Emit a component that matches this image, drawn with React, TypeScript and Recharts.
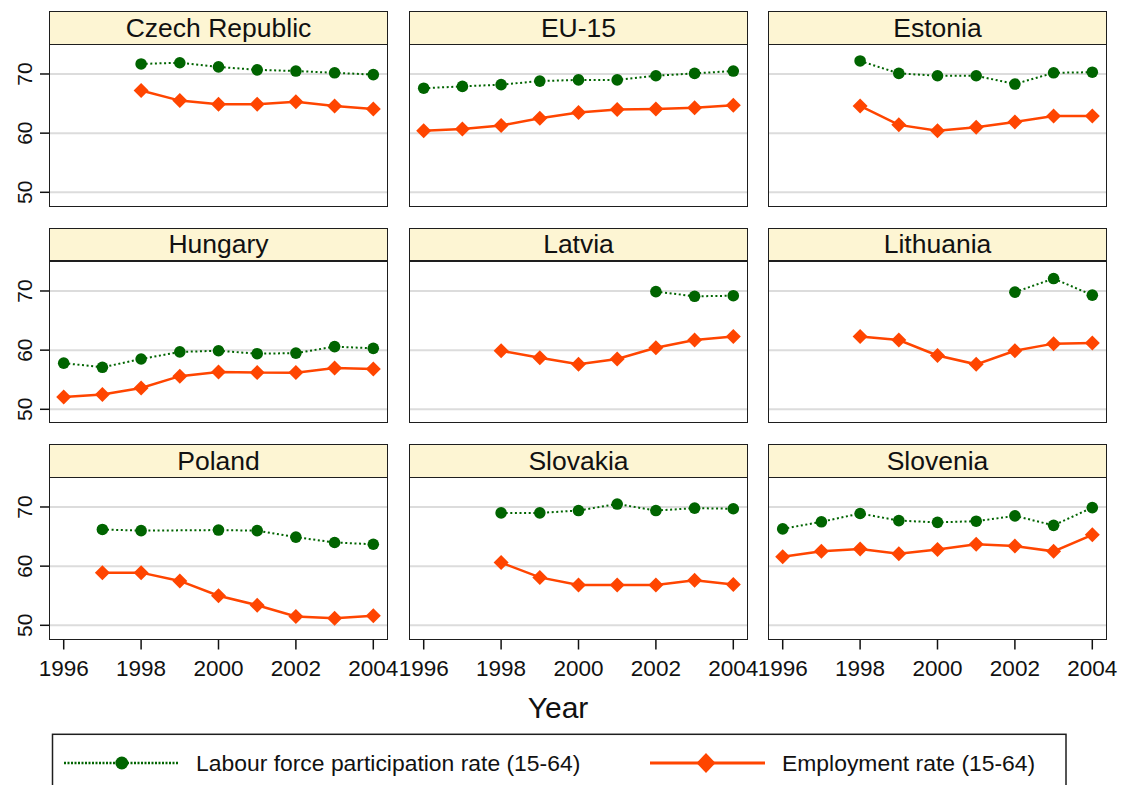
import React from "react";
import { LineChart, Line, XAxis, YAxis, CartesianGrid } from "recharts";

const years = [1996, 1997, 1998, 1999, 2000, 2001, 2002, 2003, 2004];
const yearTicks = [1996, 1998, 2000, 2002, 2004];
const rateTicks = [50, 60, 70];

const czechParticipation = [null, null, 71.7, 71.9, 71.2, 70.7, 70.5, 70.2, 69.9];
const czechEmployment = [null, null, 67.2, 65.5, 64.9, 64.9, 65.3, 64.6, 64.1];
const eu15Participation = [67.6, 67.9, 68.2, 68.8, 69.0, 69.0, 69.7, 70.1, 70.5];
const eu15Employment = [60.4, 60.7, 61.3, 62.5, 63.5, 64.0, 64.1, 64.3, 64.7];
const estoniaParticipation = [null, null, 72.2, 70.1, 69.7, 69.7, 68.3, 70.2, 70.3];
const estoniaEmployment = [null, null, 64.6, 61.4, 60.4, 61.0, 61.9, 62.9, 62.9];
const hungaryParticipation = [57.8, 57.1, 58.5, 59.7, 59.9, 59.4, 59.5, 60.6, 60.3];
const hungaryEmployment = [52.1, 52.5, 53.6, 55.6, 56.3, 56.2, 56.2, 57.0, 56.8];
const latviaParticipation = [null, null, null, null, null, null, 69.9, 69.1, 69.2];
const latviaEmployment = [null, null, 59.9, 58.7, 57.6, 58.5, 60.4, 61.7, 62.3];
const lithuaniaParticipation = [null, null, null, null, null, null, 69.8, 72.1, 69.3];
const lithuaniaEmployment = [null, null, 62.3, 61.7, 59.1, 57.6, 59.9, 61.1, 61.2];
const polandParticipation = [null, 66.2, 66.0, null, 66.1, 66.0, 64.9, 64.0, 63.7];
const polandEmployment = [null, 58.9, 58.9, 57.5, 55.0, 53.4, 51.5, 51.2, 51.6];
const slovakiaParticipation = [null, null, 69.0, 69.0, 69.4, 70.5, 69.4, 69.8, 69.7];
const slovakiaEmployment = [null, null, 60.6, 58.1, 56.8, 56.8, 56.8, 57.6, 56.9];
const sloveniaParticipation = [66.3, 67.5, 68.9, 67.7, 67.4, 67.6, 68.5, 66.9, 69.9];
const sloveniaEmployment = [61.6, 62.5, 62.9, 62.1, 62.8, 63.7, 63.4, 62.5, 65.3];

const panels = [
  { name: "Czech Republic", participation: czechParticipation, employment: czechEmployment },
  { name: "EU-15", participation: eu15Participation, employment: eu15Employment },
  { name: "Estonia", participation: estoniaParticipation, employment: estoniaEmployment },
  { name: "Hungary", participation: hungaryParticipation, employment: hungaryEmployment },
  { name: "Latvia", participation: latviaParticipation, employment: latviaEmployment },
  { name: "Lithuania", participation: lithuaniaParticipation, employment: lithuaniaEmployment },
  { name: "Poland", participation: polandParticipation, employment: polandEmployment },
  { name: "Slovakia", participation: slovakiaParticipation, employment: slovakiaEmployment },
  { name: "Slovenia", participation: sloveniaParticipation, employment: sloveniaEmployment },
];

const FONT = '"Liberation Sans", Arial, sans-serif';
const GREEN = "#006400";
const ORANGE = "#ff4500";
const HEADER_FILL = "#fdf5d3";
const BORDER = "#1e1e1e";

const colLeft = [49, 409, 768];
const rowTop = [11, 227.5, 444];
const panelW = 339;
const headerH = 34;
const plotH = 161.5;
const padX = 30; // room so edge tick labels are not clipped

function CircleDot(props: any) {
  const { cx, cy, value, index } = props;
  if (cx == null || cy == null || value == null) return <g key={`c-${index}`} />;
  return <circle key={`c-${index}`} cx={cx} cy={cy} r={5.8} fill={GREEN} />;
}

function DiamondDot(props: any) {
  const { cx, cy, value, index } = props;
  if (cx == null || cy == null || value == null) return <g key={`d-${index}`} />;
  const s = 7.5;
  return (
    <path
      key={`d-${index}`}
      d={`M${cx},${cy - s} L${cx + s},${cy} L${cx},${cy + s} L${cx - s},${cy} Z`}
      fill={ORANGE}
    />
  );
}

function YTick(props: any) {
  const { x, y, payload } = props;
  return (
    <text
      transform={`translate(${x - 5.8}, ${y}) rotate(-90)`}
      textAnchor="middle"
      fontSize={21}
      fontFamily={FONT}
      fill="#111"
    >
      {payload.value}
    </text>
  );
}

function XTick(props: any) {
  const { x, y, payload } = props;
  return (
    <text x={x} y={y + 24.5} textAnchor="middle" fontSize={22.5} fontFamily={FONT} fill="#111">
      {payload.value}
    </text>
  );
}

function Panel({ name, participation, employment, col, row }: any) {
  const left = colLeft[col];
  const top = rowTop[row];
  const axisW = col === 0 ? 49 : 0;
  const axisH = row === 2 ? 50 : 0;
  const chartW = panelW + axisW + padX * 2;
  const data = years.map((year, i) => ({
    year,
    participation: participation[i],
    employment: employment[i],
  }));

  return (
    <>
      <div
        style={{
          position: "absolute",
          left,
          top,
          width: panelW,
          height: headerH,
          boxSizing: "border-box",
          border: `1.5px solid ${BORDER}`,
          background: HEADER_FILL,
          display: "flex",
          alignItems: "center",
          justifyContent: "center",
          fontSize: 26.5,
          fontFamily: FONT,
          color: "#111",
          whiteSpace: "nowrap",
        }}
      >
        {name}
      </div>
      <div
        style={{
          position: "absolute",
          left: left - axisW - padX,
          top: top + headerH,
          width: chartW,
          height: plotH + axisH,
        }}
      >
        <LineChart
          width={chartW}
          height={plotH + axisH}
          data={data}
          margin={{ top: 0, right: padX, bottom: 0, left: padX }}
        >
          <CartesianGrid vertical={false} stroke="#dcdcdc" strokeWidth={2} horizontalValues={rateTicks} />
          <XAxis
            dataKey="year"
            type="number"
            domain={[1995.62, 2004.38]}
            allowDataOverflow
            ticks={yearTicks}
            hide={row !== 2}
            height={50}
            tickSize={10}
            axisLine={false}
            tickLine={{ stroke: "#111", strokeWidth: 1.5 }}
            tick={<XTick />}
            interval={0}
          />
          <YAxis
            type="number"
            domain={[47.6, 74.9]}
            allowDataOverflow
            ticks={rateTicks}
            hide={col !== 0}
            width={49}
            tickSize={9}
            axisLine={false}
            tickLine={{ stroke: "#111", strokeWidth: 1.5 }}
            tick={<YTick />}
            interval={0}
          />
          <Line
            dataKey="participation"
            stroke={GREEN}
            strokeWidth={2}
            strokeDasharray="2 2.6"
            dot={(p: any) => <CircleDot {...p} key={`c-${p.index}`} />}
            activeDot={false}
            connectNulls
            isAnimationActive={false}
          />
          <Line
            dataKey="employment"
            stroke={ORANGE}
            strokeWidth={2.5}
            dot={(p: any) => <DiamondDot {...p} key={`d-${p.index}`} />}
            activeDot={false}
            connectNulls
            isAnimationActive={false}
          />
        </LineChart>
      </div>
      <div
        style={{
          position: "absolute",
          left,
          top: top + headerH - 1.5,
          width: panelW,
          height: plotH + 1.5,
          boxSizing: "border-box",
          border: `1.5px solid ${BORDER}`,
          pointerEvents: "none",
        }}
      />
    </>
  );
}

export default function App() {
  return (
    <div
      style={{
        position: "absolute",
        left: 0,
        top: 0,
        width: 1122,
        height: 785,
        overflow: "hidden",
        background: "#fff",
        fontFamily: FONT,
      }}
    >
      {panels.map((p, i) => (
        <Panel key={p.name} {...p} col={i % 3} row={Math.floor(i / 3)} />
      ))}
      <svg
        width={1122}
        height={785}
        style={{ position: "absolute", left: 0, top: 0, pointerEvents: "none" }}
      >
        <text x={558} y={717.5} textAnchor="middle" fontSize={30} fontFamily={FONT} fill="#111">
          Year
        </text>
        <rect x={52.5} y={734.3} width={1013.5} height={80} fill="none" stroke={BORDER} strokeWidth={1.5} />
        <line x1={64} y1={763} x2={179} y2={763} stroke={GREEN} strokeWidth={2.5} strokeDasharray="2 1.5" />
        <circle cx={121.8} cy={763} r={6.5} fill={GREEN} />
        <text x={196} y={771} fontSize={22.9} fontFamily={FONT} fill="#111">
          Labour force participation rate (15-64)
        </text>
        <line x1={650} y1={763} x2={765} y2={763} stroke={ORANGE} strokeWidth={3} />
        <path d="M706,753 L715.5,763 L706,773 L696.5,763 Z" fill={ORANGE} />
        <text x={782} y={771} fontSize={22.9} fontFamily={FONT} fill="#111">
          Employment rate (15-64)
        </text>
      </svg>
    </div>
  );
}
